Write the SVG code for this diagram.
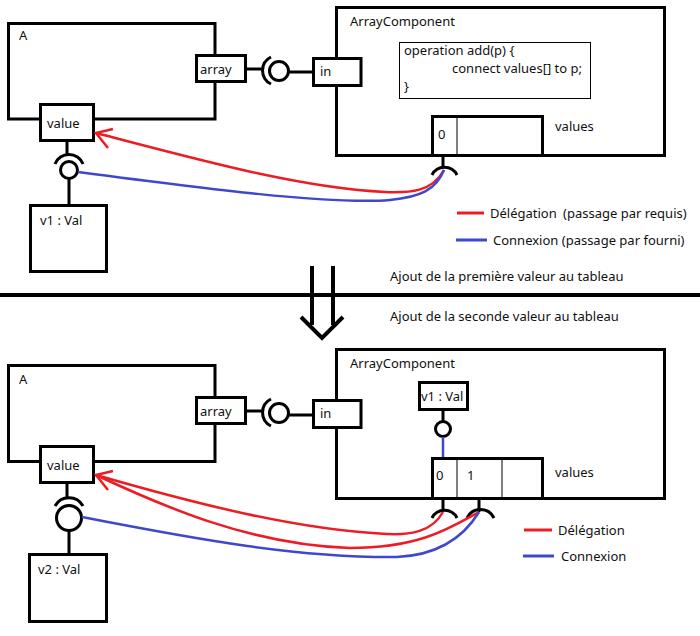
<svg xmlns="http://www.w3.org/2000/svg" width="700" height="636" viewBox="0 0 700 636">
<defs>
<style>
.box{fill:#fff;stroke:#000;stroke-width:3}
.thin{fill:#fff;stroke:#000;stroke-width:1}
.ln{fill:none;stroke:#000;stroke-width:3}
.red{fill:none;stroke:#ed1c24;stroke-width:2.5}
.blue{fill:none;stroke:#3f48cc;stroke-width:2.5}
text{font-family:"Noto Sans","DejaVu Sans",sans-serif;font-size:13px;fill:#111}
</style>
</defs>
<rect width="700" height="636" fill="#fff"/>

<!-- TOP SECTION -->
<g id="A-top">
<rect class="box" x="8.5" y="23.5" width="206.5" height="95.5"/>
<text x="19" y="40">A</text>
</g>
<g id="arrayComponent-top">
<rect class="box" x="336.5" y="7.5" width="328" height="148"/>
<text x="350" y="26">ArrayComponent</text>
</g>
<g id="operation-top">
<rect class="thin" x="399.5" y="42.5" width="191" height="56"/>
<text x="404" y="55">operation add(p) {</text>
<text x="452" y="73">connect values[] to p;</text>
<text x="404" y="91">}</text>
</g>
<g id="values-top">
<rect class="box" x="432.5" y="116.5" width="110" height="39"/>
<line x1="457" y1="118" x2="457" y2="154" stroke="#000" stroke-width="1"/>
<text x="438" y="139">0</text>
<text x="555" y="131">values</text>
</g>
<g id="array-port-top">
<rect class="box" x="196.5" y="55.5" width="49" height="26"/>
<text x="200" y="74">array</text>
</g>
<g id="in-port-top">
<rect class="box" x="313.5" y="58.5" width="47.5" height="27"/>
<text x="320" y="76">in</text>
</g>
<g id="value-port-top">
<rect class="box" x="40.5" y="104.5" width="53" height="36"/>
<text x="47" y="128">value</text>
</g>
<g id="v1-top">
<rect class="box" x="30.5" y="205.5" width="76" height="66"/>
<text x="40" y="225">v1 : Val</text>
</g>

<g id="connectors-top">
<line class="ln" x1="247" y1="69" x2="263" y2="69"/>
<path class="ln" d="M271 57 A15 15 0 0 0 271 84"/>
<circle class="ln" cx="279" cy="71" r="9.5"/>
<line class="ln" x1="289" y1="72" x2="312" y2="72"/>
<line class="ln" x1="67" y1="142" x2="67" y2="155"/>
<path class="ln" d="M55 164 A15 15 0 0 1 83 164"/>
<circle class="ln" cx="69" cy="170" r="8.5"/>
<line class="ln" x1="69" y1="179" x2="69" y2="204"/>
<line class="ln" x1="443" y1="157" x2="443" y2="168"/>
<path class="ln" d="M432 175 A14 14 0 0 1 457 175" stroke-width="2.5"/>
<path class="red" d="M444 170 C432 192 410 193 385 192 C300 188 200 160 96 133"/>
<path class="red" d="M113 129 L96 133 L108 148"/>
<path class="blue" d="M78 172 C200 188 330 205 390 200 C420 197 436 190 444 170"/>
</g>

<g id="legend-top">
<line x1="457" y1="213" x2="484" y2="213" stroke="#ed1c24" stroke-width="3"/>
<text x="490" y="218">Délégation<tspan x="563">(passage par requis)</tspan></text>
<line x1="456" y1="240" x2="487" y2="240" stroke="#3f48cc" stroke-width="3"/>
<text x="493" y="245">Connexion (passage par fourni)</text>
</g>

<!-- SEPARATOR -->
<g id="separator">
<line x1="0" y1="295" x2="700" y2="295" stroke="#000" stroke-width="4"/>
<text x="390" y="281">Ajout de la première valeur au tableau</text>
<text x="390" y="321">Ajout de la seconde valeur au tableau</text>
<line x1="312" y1="266" x2="312" y2="325" stroke="#000" stroke-width="4"/>
<line x1="333" y1="266" x2="333" y2="325" stroke="#000" stroke-width="4"/>
<path d="M301 317 L322 338 L343 317" fill="none" stroke="#000" stroke-width="4"/>
</g>

<!-- BOTTOM SECTION -->
<g id="A-bottom">
<rect class="box" x="8.5" y="365.5" width="206.5" height="96"/>
<text x="19" y="384">A</text>
</g>
<g id="arrayComponent-bottom">
<rect class="box" x="336.5" y="349.5" width="328" height="149"/>
<text x="350" y="368">ArrayComponent</text>
</g>
<g id="v1-bottom">
<rect class="box" x="419.5" y="382.5" width="48" height="27"/>
<text x="421" y="401">v1 : Val</text>
</g>
<g id="values-bottom">
<rect class="box" x="432.5" y="458.5" width="110" height="40"/>
<line x1="457" y1="460" x2="457" y2="497" stroke="#000" stroke-width="1"/>
<line x1="502" y1="460" x2="502" y2="497" stroke="#000" stroke-width="1"/>
<text x="436" y="480">0</text>
<text x="467" y="480">1</text>
<text x="555" y="477">values</text>
</g>
<g id="array-port-bottom">
<rect class="box" x="196.5" y="397.5" width="49" height="26"/>
<text x="200" y="416">array</text>
</g>
<g id="in-port-bottom">
<rect class="box" x="313.5" y="400.5" width="47.5" height="27"/>
<text x="320" y="418">in</text>
</g>
<g id="value-port-bottom">
<rect class="box" x="40.5" y="446.5" width="53" height="36"/>
<text x="47" y="470">value</text>
</g>
<g id="v2-bottom">
<rect class="box" x="29.5" y="554.5" width="77" height="67"/>
<text x="38" y="574">v2 : Val</text>
</g>

<g id="connectors-bottom">
<line class="ln" x1="247" y1="411" x2="263" y2="411"/>
<path class="ln" d="M271 399 A15 15 0 0 0 271 426"/>
<circle class="ln" cx="279" cy="413" r="9.5"/>
<line class="ln" x1="289" y1="415" x2="312" y2="415"/>
<line class="ln" x1="443" y1="411" x2="443" y2="421"/>
<circle class="ln" cx="443" cy="429" r="7.5"/>
<line x1="443" y1="437" x2="443" y2="457" stroke="#3f48cc" stroke-width="2.5"/>
<line class="ln" x1="67" y1="483" x2="67" y2="497"/>
<path class="ln" d="M55 506 A16 16 0 0 1 83 506"/>
<circle class="ln" cx="69" cy="518" r="12.5"/>
<line class="ln" x1="69" y1="531" x2="69" y2="554"/>
<line class="ln" x1="443" y1="500" x2="443" y2="511"/>
<path class="ln" d="M432 518 A14 14 0 0 1 457 518" stroke-width="2.5"/>
<line class="ln" x1="479" y1="500" x2="479" y2="512"/>
<path class="ln" d="M467 518 A15 15 0 0 1 494 518" stroke-width="2.5"/>
<path class="red" d="M443 512 C432 532 410 535 387 534 C300 530 200 505 96 475"/>
<path class="red" d="M479 512 C450 528 420 548 350 548 C250 545 160 505 96 475"/>
<path class="red" d="M113 471 L96 475 L108 490"/>
<path class="blue" d="M82 517 C200 540 300 558 397 557 C440 555 465 535 479 512"/>
</g>

<g id="legend-bottom">
<line x1="524" y1="530" x2="552" y2="530" stroke="#ed1c24" stroke-width="3"/>
<text x="558" y="535">Délégation</text>
<line x1="523" y1="556" x2="554" y2="556" stroke="#3f48cc" stroke-width="3"/>
<text x="561" y="561">Connexion</text>
</g>
</svg>
